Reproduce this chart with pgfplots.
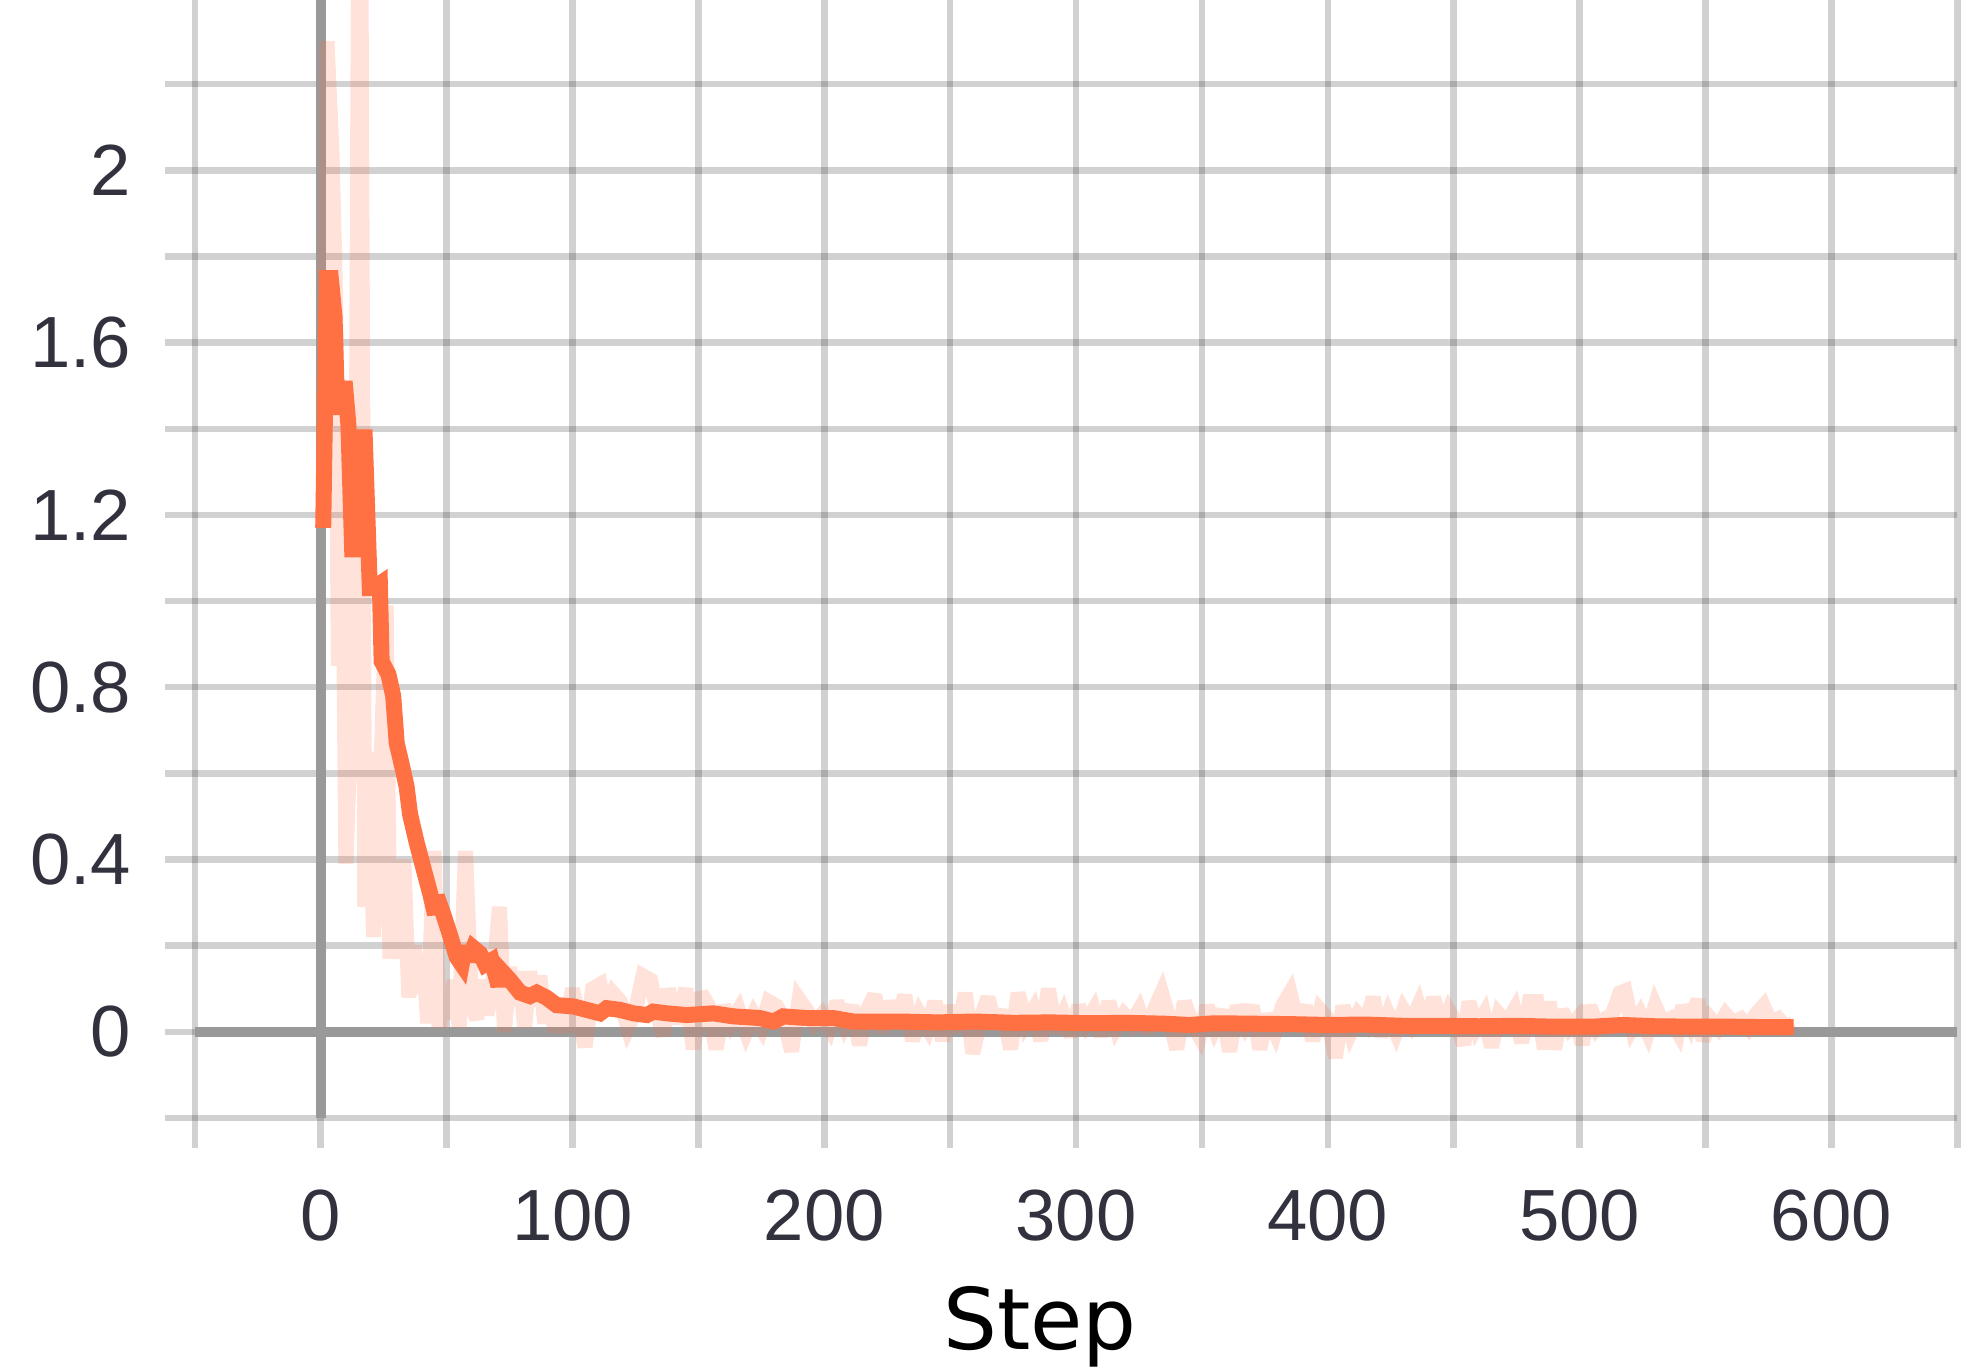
\documentclass[border=0pt]{standalone}
\usepackage{pgfplots}
\pgfplotsset{compat=1.18}
\usepackage{fontspec}
\setmainfont{Liberation Sans}
\newfontfamily\dejavu{DejaVu Sans}

\definecolor{lossc}{HTML}{FF7043}
\definecolor{zeroc}{HTML}{999999}
\definecolor{ticklab}{RGB}{50,50,62}

% raw loss values
\pgfplotstableread{
step val
1 1.17
2.5 2.30
4.5 2.04
6 1.69
7 0.85
8.5 1.35
10 0.39
12 0.72
14 1.10
15.5 3.20
17.5 0.29
19 0.65
21 0.22
23 0.45
26 0.99
27.5 0.17
29 0.40
31 0.17
33 0.40
35 0.08
37 0.20
39 0.09
41 0.15
42.5 0.02
45 0.42
47 0.01
49 0.10
51 0.03
53 0.12
55 0.01
57.5 0.42
60 0.06
62 0.03
64 0.12
66 0.04
68 0.09
71 0.29
73 0.00
75 0.15
77 0.06
79 0.14
81 0.01
83 0.14
85 0.06
87 0.13
89 0.02
91 0.08
93 0.00
95 0.05
97 0.00
100 0.10
103 0.02
105 -0.035
108 0.10
111 0.11
113 0.05
116 0.09
119 0.07
122 0.01
125 0.05
128 0.13
131 0.12
134 0.04
136 -0.01
138 0.10
141 0.02
145 0.10
148 -0.04
151 0.09
154 0.06
157 -0.04
160 0.06
163 0.02
166 0.05
169 0.00
172 0.04
175 0.01
178 0.07
181 0.06
184 0.03
187 -0.045
190 0.075
193 0.05
196 0.02
199 0.04
202 0.01
205 0.07
208 0.02
211 0.06
214 -0.03
217 0.05
220 0.085
223 0.00
226 0.07
229 0.02
232 0.085
235 -0.02
238 0.04
241 0.01
244 0.07
247 -0.02
250 0.06
253 0.00
256 0.09
259 -0.05
262 0.03
265 0.08
268 0.01
271 0.05
274 -0.04
277 0.09
280 0.02
283 0.05
286 -0.02
289 0.10
292 0.00
295 0.04
298 -0.01
301 0.06
304 0.02
307 0.05
310 -0.01
313 0.07
316 0.01
319 0.04
322 0.02
325 0.05
328 0.00
331 0.05
334 0.09
337 0.03
340 -0.04
343 0.07
346 0.02
349 -0.01
352 0.06
355 0.01
358 0.05
361 -0.045
364 0.06
367 0.02
370 0.06
373 -0.04
376 0.04
379 0.00
382 0.06
385 0.09
388 0.02
391 0.06
394 -0.02
397 0.05
400 0.03
403 -0.06
406 0.06
409 0.00
412 0.04
415 0.02
418 0.08
421 -0.01
424 0.04
427 0.00
430 0.05
433 0.02
436 0.06
439 0.00
442 0.08
445 0.01
448 0.05
451 0.02
454 -0.03
456 0.07
459 0.01
462 0.04
465 -0.035
468 0.04
471 0.02
474 0.05
477 -0.025
480 0.07
483 0.07
486 -0.04
488 0.07
490 -0.04
493 0.05
496 0.01
499 0.03
501 -0.03
504 0.06
507 0.01
510 0.03
513 0.04
516 0.09
518 0.095
521 0.01
524 0.04
527 0.00
530 0.06
533 0.02
536 0.03
539 0.00
541 0.06
544 0.02
547 0.075
549 -0.02
552 0.03
555 0.01
558 0.04
561 0.02
564 0.03
567 0.01
570 0.04
573 0.06
576 0.02
579 0.03
582 0.01
585 0.02
}\rawdata

% smoothed loss
\pgfplotstableread{
step val
1 1.17
2.5 1.75
4 1.75
5.5 1.66
6.5 1.45
8 1.45
9.5 1.51
11 1.41
12.5 1.12
14.5 1.12
16 1.38
17.5 1.38
19.5 1.03
21 1.03
23.5 1.04
24.2 0.86
26.9 0.83
28.8 0.78
30.2 0.67
32.2 0.62
34.1 0.57
35.5 0.505
38.1 0.44
40.8 0.38
43.4 0.323
45.4 0.273
46.1 0.315
48.7 0.273
51.4 0.224
54 0.174
56 0.157
57.3 0.199
58.6 0.166
60.6 0.195
63.3 0.182
65.3 0.157
67.9 0.166
70.6 0.107
71.9 0.141
75.2 0.120
79.2 0.091
83.1 0.083
85.8 0.091
89.8 0.079
93.7 0.062
100.4 0.059
105.6 0.051
110.9 0.043
113.6 0.055
118.9 0.051
124.2 0.043
129.5 0.039
132.1 0.047
137.4 0.043
145.4 0.039
155.9 0.043
163.9 0.036
174.5 0.032
179.8 0.024
183.7 0.036
193 0.032
203.6 0.032
211.5 0.024
230 0.024
245 0.022
260 0.024
275 0.021
290 0.022
305 0.020
320 0.021
335 0.019
345 0.016
355 0.020
370 0.019
385 0.018
400 0.016
415 0.017
430 0.014
445 0.014
460 0.013
475 0.014
490 0.012
505 0.012
517 0.016
530 0.013
545 0.012
560 0.012
575 0.011
585 0.011
}\smoothdata

\begin{document}
\begin{tikzpicture}
\begin{axis}[
  at={(0,0)}, anchor=south west,
  scale only axis, width=352.5pt, height=224pt,
  xmin=-50, xmax=650, ymin=-0.2, ymax=2.4,
  axis line style={draw=none},
  tick pos=left,
  tick align=outside,
  major tick length=6pt, minor tick length=6pt,
  tick style={draw=black, draw opacity=0.18, line width=1.3pt},
  xtick={0,100,...,600},
  minor xtick={-50,50,...,650},
  ytick={0,0.4,0.8,1.2,1.6,2},
  minor ytick={-0.2,0.2,0.6,1,1.4,1.8,2.2},
  grid=both,
  major grid style={draw=black, draw opacity=0.18, line width=1.3pt},
  minor grid style={draw=black, draw opacity=0.18, line width=1.3pt},
  /pgf/number format/assume math mode=true,
  ticklabel style={font=\fontsize{14.5}{17}\selectfont, text=ticklab, inner sep=0pt},
  xticklabel style={anchor=north, yshift=-8.1pt},
  yticklabel style={anchor=east, xshift=-6.6pt},
]
\draw[zeroc, line width=2pt] (axis cs:-50,0) -- (axis cs:650,0);
\draw[zeroc, line width=2pt] (axis cs:0,-0.2) -- (axis cs:0,2.4);
\addplot[lossc, draw opacity=0.2, line width=3pt, miter limit=3] table[x=step, y=val] {\rawdata};
\addplot[lossc, line width=3.2pt, miter limit=3] table[x=step, y=val] {\smoothdata};
\end{axis}
\node[font=\dejavu\fontsize{17}{20}\selectfont, anchor=base] at (169pt,-46.2pt) {Step};
\pgfresetboundingbox
\path[use as bounding box] (-38.96pt,-50pt) rectangle (353.84pt,223.6pt);
\end{tikzpicture}
\end{document}
